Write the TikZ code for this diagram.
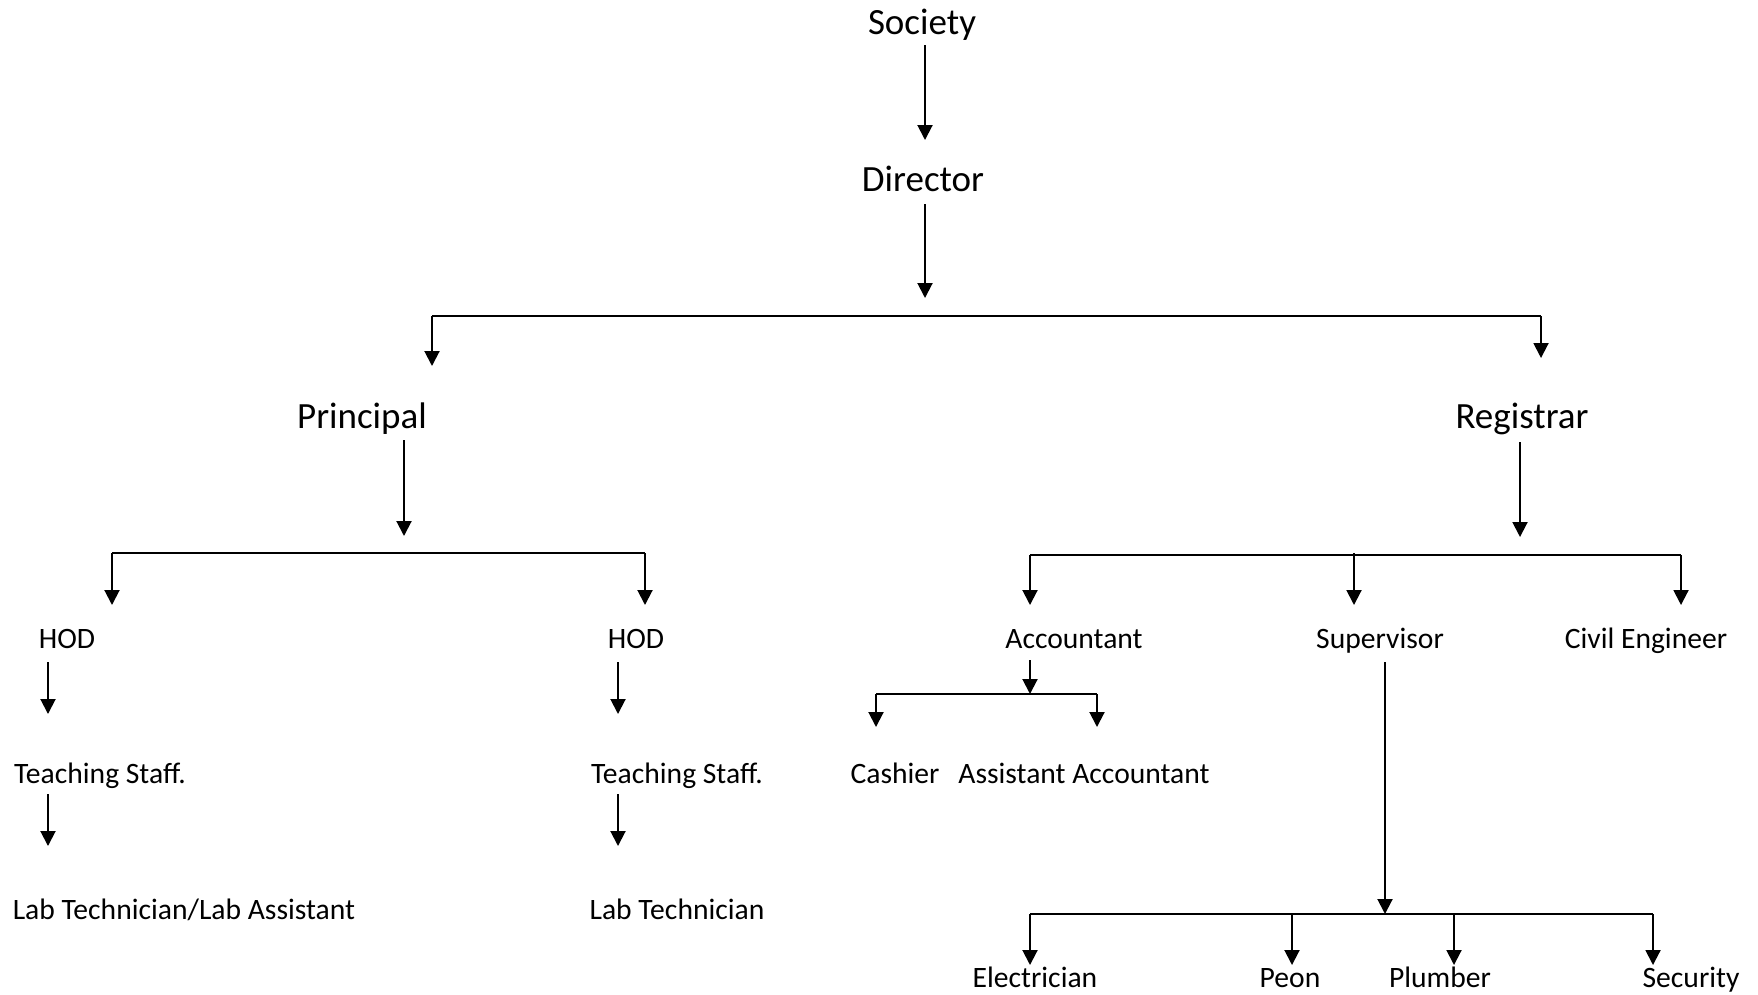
\documentclass[tikz,border=0pt]{standalone}
\usepackage{fontspec}
\setmainfont{Carlito}
\usetikzlibrary{arrows.meta}
\tikzset{
  big/.style={inner sep=0pt, anchor=base, font=\fontsize{37}{41}\selectfont},
  small/.style={inner sep=0pt, anchor=base, font=\fontsize{29.6}{34}\selectfont},
  arr/.style={line width=2pt, -{Triangle[width=15pt,length=15pt]}},
  ln/.style={line width=2pt}
}
\begin{document}
\begin{tikzpicture}[x=1pt,y=-1pt]
\useasboundingbox (0,0) rectangle (1758,994);
% nodes
\node[big] (society) at (922,34) {Society};
\node[big] (director) at (923,191) {Director};
\node[big] (principal) at (362,428) {Principal};
\node[big] (registrar) at (1522,428) {Registrar};
\node[small] (hodL) at (67,648) {HOD};
\node[small] (hodR) at (636,648) {HOD};
\node[small] (accountant) at (1074,648) {Accountant};
\node[small] (supervisor) at (1380,648) {Supervisor};
\node[small] (civil) at (1646,648) {Civil Engineer};
\node[small] (tsL) at (100,783) {Teaching Staff.};
\node[small] (tsR) at (677,783) {Teaching Staff.};
\node[small] (cashier) at (895,783) {Cashier};
\node[small] (asstacc) at (1084,783) {Assistant Accountant};
\node[small] (labL) at (184,919) {Lab Technician/Lab Assistant};
\node[small] (labR) at (677,919) {Lab Technician};
\node[small] (electrician) at (1035,987) {Electrician};
\node[small] (peon) at (1290,987) {Peon};
\node[small] (plumber) at (1440,987) {Plumber};
\node[small] (security) at (1691,987) {Security};
% coordinates
\coordinate (s1) at (925,45);   \coordinate (d0) at (925,140);
\coordinate (d1) at (925,204);  \coordinate (d2) at (925,298);
\coordinate (b1L) at (432,316); \coordinate (b1R) at (1541,316);
\coordinate (pIn) at (432,366); \coordinate (rIn) at (1541,358);
\coordinate (p1) at (404,440);  \coordinate (p2) at (404,536);
\coordinate (b2L) at (112,553); \coordinate (b2R) at (645,553);
\coordinate (hLIn) at (112,605); \coordinate (hRIn) at (645,605);
\coordinate (hL1) at (48,662);  \coordinate (tLIn) at (48,714);
\coordinate (hR1) at (618,662); \coordinate (tRIn) at (618,714);
\coordinate (tL1) at (48,794);  \coordinate (lLIn) at (48,846);
\coordinate (tR1) at (618,794); \coordinate (lRIn) at (618,846);
\coordinate (r1) at (1520,442); \coordinate (r2) at (1520,537);
\coordinate (b3L) at (1030,555); \coordinate (b3C) at (1354,553); \coordinate (b3R) at (1681,555);
\coordinate (aIn) at (1030,605); \coordinate (sIn) at (1354,605); \coordinate (cIn) at (1681,605);
\coordinate (a1) at (1030,660); \coordinate (b4M) at (1030,694);
\coordinate (b4L) at (876,694); \coordinate (b4R) at (1097,694);
\coordinate (caIn) at (876,727); \coordinate (aaIn) at (1097,727);
\coordinate (su1) at (1385,662); \coordinate (b5M) at (1385,914);
\coordinate (b5L) at (1030,914); \coordinate (b5P) at (1292,914);
\coordinate (b5Q) at (1454,914); \coordinate (b5R) at (1653,914);
\coordinate (eIn) at (1030,965); \coordinate (peIn) at (1292,965);
\coordinate (plIn) at (1454,965); \coordinate (seIn) at (1653,965);
% connectors
\draw[arr] (s1) -- (d0);
\draw[arr] (d1) -- (d2);
\draw[ln] (b1L) -- (b1R);
\draw[arr] (b1L) -- (pIn);
\draw[arr] (b1R) -- (rIn);
\draw[arr] (p1) -- (p2);
\draw[ln] (b2L) -- (b2R);
\draw[arr] (b2L) -- (hLIn);
\draw[arr] (b2R) -- (hRIn);
\draw[arr] (hL1) -- (tLIn);
\draw[arr] (hR1) -- (tRIn);
\draw[arr] (tL1) -- (lLIn);
\draw[arr] (tR1) -- (lRIn);
\draw[arr] (r1) -- (r2);
\draw[ln] (b3L) -- (b3R);
\draw[arr] (b3L) -- (aIn);
\draw[arr] (b3C) -- (sIn);
\draw[arr] (b3R) -- (cIn);
\draw[arr] (a1) -- (b4M);
\draw[ln] (b4L) -- (b4R);
\draw[arr] (b4L) -- (caIn);
\draw[arr] (b4R) -- (aaIn);
\draw[arr] (su1) -- (b5M);
\draw[ln] (b5L) -- (b5R);
\draw[arr] (b5L) -- (eIn);
\draw[arr] (b5P) -- (peIn);
\draw[arr] (b5Q) -- (plIn);
\draw[arr] (b5R) -- (seIn);
\end{tikzpicture}
\end{document}
